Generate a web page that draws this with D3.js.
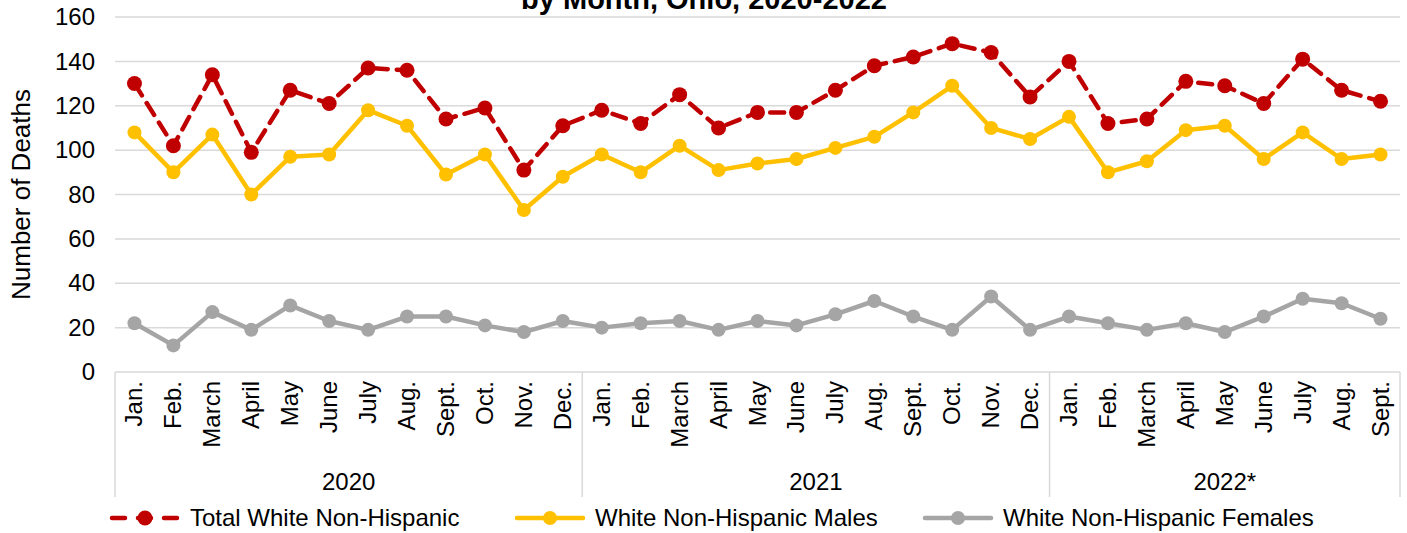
<!DOCTYPE html>
<html>
<head>
<meta charset="utf-8">
<script src="https://cdn.jsdelivr.net/npm/d3@7"></script>
<style>
  html, body { margin: 0; padding: 0; background: #fff; }
  svg { display: block; font-family: "Liberation Sans", Arial, sans-serif; }
</style>
</head>
<body>
<svg id="chart" width="1407" height="533"></svg>
<script>
const months = ["Jan.","Feb.","March","April","May","June","July","Aug.","Sept.","Oct.","Nov.","Dec.",
                "Jan.","Feb.","March","April","May","June","July","Aug.","Sept.","Oct.","Nov.","Dec.",
                "Jan.","Feb.","March","April","May","June","July","Aug.","Sept."];
const years = ["2020","2021","2022*"];
const yearCounts = [12, 12, 9];
const totalWNH = [130,102,134,99,127,121,137,136,114,119,91,111,
                  118,112,125,110,117,117,127,138,142,148,144,124,
                  140,112,114,131,129,121,141,127,122];
const malesWNH = [108,90,107,80,97,98,118,111,89,98,73,88,
                  98,90,102,91,94,96,101,106,117,129,110,105,
                  115,90,95,109,111,96,108,96,98];
const femalesWNH = [22,12,27,19,30,23,19,25,25,21,18,23,
                    20,22,23,19,23,21,26,32,25,19,34,19,
                    25,22,19,22,18,25,33,31,24];
const yTicks = [0,20,40,60,80,100,120,140,160];
const seriesNames = ["Total White Non-Hispanic","White Non-Hispanic Males","White Non-Hispanic Females"];
const titleText = "by Month, Ohio, 2020-2022";
const yTitle = "Number of Deaths";

(function () {
const svg = d3.select("#chart");
const pL = 115, pR = 1400, pT = 17, pB = 372;
const idx = d3.range(months.length);
const x = d3.scaleBand().domain(idx).range([pL, pR]);
const cx = i => x(i) + x.bandwidth() / 2;
const y = d3.scaleLinear().domain([0, 160]).range([pB, pT]);

// gridlines
svg.append("g").selectAll("line").data(yTicks.filter(t => t > 0)).join("line")
  .attr("x1", pL).attr("x2", pR)
  .attr("y1", d => y(d)).attr("y2", d => y(d))
  .attr("stroke", "#d9d9d9").attr("stroke-width", 1.5);

// y axis labels
const yAxis = d3.axisLeft(y).tickValues(yTicks).tickSize(0).tickPadding(0);
const ya = svg.append("g").attr("transform", `translate(${pL - 20},0)`).call(yAxis);
ya.select(".domain").remove();
ya.selectAll("text").attr("font-size", 24).attr("fill", "#000")
  .attr("font-family", '"Liberation Sans", Arial, sans-serif');

// category axis line and separators
svg.append("line").attr("x1", pL).attr("x2", pR).attr("y1", pB).attr("y2", pB)
  .attr("stroke", "#d9d9d9").attr("stroke-width", 1.5);
let acc = 0;
const bounds = [0];
yearCounts.forEach(c => { acc += c; bounds.push(acc); });
const edgeX = k => k >= months.length ? x(months.length - 1) + x.bandwidth() : x(k);
svg.append("g").selectAll("line").data(bounds).join("line")
  .attr("x1", d => edgeX(d)).attr("x2", d => edgeX(d))
  .attr("y1", pB).attr("y2", 497)
  .attr("stroke", "#d9d9d9").attr("stroke-width", 1.5);

// month labels
svg.append("g").selectAll("text").data(idx).join("text")
  .attr("transform", i => `translate(${cx(i) + 8},381) rotate(-90)`)
  .attr("text-anchor", "end")
  .attr("font-size", 24)
  .text(i => months[i]);

// year labels
svg.append("g").selectAll("text").data(years).join("text")
  .attr("x", (d, k) => (edgeX(bounds[k]) + edgeX(bounds[k + 1])) / 2)
  .attr("y", 490)
  .attr("text-anchor", "middle")
  .attr("font-size", 24)
  .text(d => d);

// y title
svg.append("text")
  .attr("transform", `translate(30,${(pT + pB) / 2}) rotate(-90)`)
  .attr("text-anchor", "middle")
  .attr("font-size", 26)
  .text(yTitle);

// title (partially clipped at top, as in the source)
svg.append("text")
  .attr("x", 704).attr("y", 9)
  .attr("text-anchor", "middle")
  .attr("font-size", 29).attr("font-weight", "bold")
  .text(titleText);

const styles = [
  { data: totalWNH, color: "#C00000", dash: "14,9", r: 7.5 },
  { data: malesWNH, color: "#FFC000", dash: null, r: 7 },
  { data: femalesWNH, color: "#A5A5A5", dash: null, r: 7 }
];

const line = d3.line().x((d, i) => cx(i)).y(d => y(d));
[2, 1, 0].forEach(k => {
  const s = styles[k];
  const g = svg.append("g");
  g.append("path").attr("d", line(s.data))
    .attr("fill", "none").attr("stroke", s.color).attr("stroke-width", 4.5)
    .attr("stroke-linejoin", "round").attr("stroke-linecap", "round")
    .attr("stroke-dasharray", s.dash);
  g.selectAll("circle").data(s.data).join("circle")
    .attr("cx", (d, i) => cx(i)).attr("cy", d => y(d)).attr("r", s.r)
    .attr("fill", s.color);
});

// legend
const legendX = [112, 517, 925];
const lg = svg.append("g");
seriesNames.forEach((name, k) => {
  const s = styles[k];
  const x0 = legendX[k], ly = 518;
  lg.append("line").attr("x1", x0).attr("x2", x0 + 66).attr("y1", ly).attr("y2", ly)
    .attr("stroke", s.color).attr("stroke-width", 4.5).attr("stroke-linecap", "round")
    .attr("stroke-dasharray", s.dash ? "13,13" : null);
  lg.append("circle").attr("cx", x0 + 33).attr("cy", ly).attr("r", s.r).attr("fill", s.color);
  lg.append("text").attr("x", x0 + 78).attr("y", ly + 8).attr("font-size", 24).text(name);
});
})();
</script>
</body>
</html>
